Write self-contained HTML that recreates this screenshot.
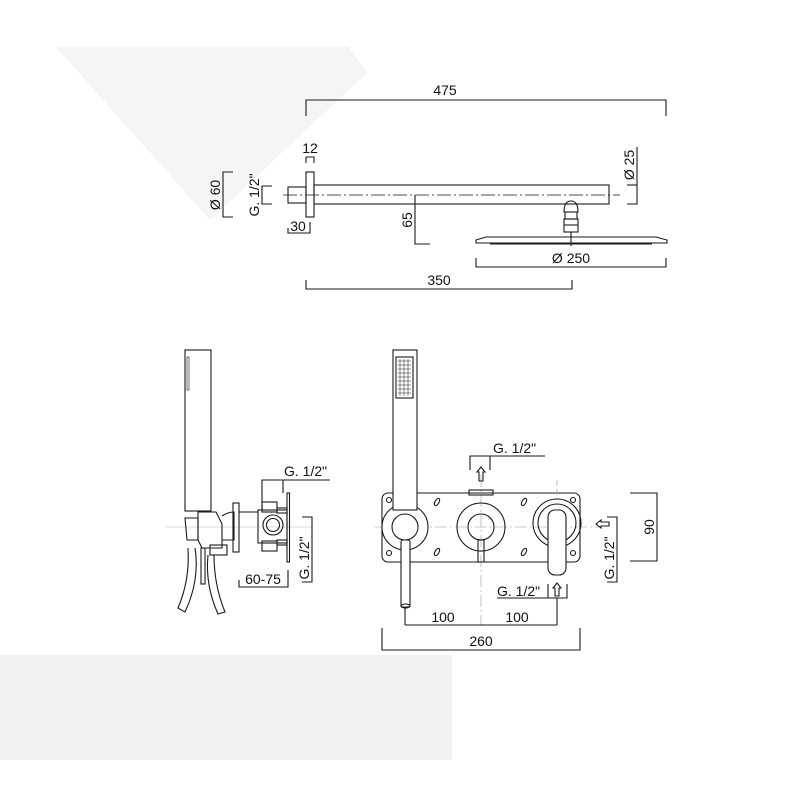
<!DOCTYPE html>
<html><head><meta charset="utf-8"><style>
html,body{margin:0;padding:0;background:#fff}
svg{display:block}
text{font-family:"Liberation Sans",sans-serif;font-size:14px;fill:#111}
</style></head><body>
<svg width="800" height="800" viewBox="0 0 800 800" xmlns="http://www.w3.org/2000/svg">
<polygon points="56,47 348,47 367,73 210,220" fill="#f5f5f5"/>
<rect x="0" y="655" width="452" height="105" fill="#f2f2f2"/>
<g fill="none" stroke="#1a1a1a" stroke-width="1.1">
<!-- TOP DRAWING -->
<polyline points="306,116 306,100 666,100 666,116"/>
<rect x="306" y="172" width="8" height="45"/>
<rect x="288" y="187" width="18" height="16"/>
<rect x="314" y="185" width="295" height="19"/>
<line x1="283" y1="195" x2="620" y2="195" stroke-dasharray="14,3,2,3" stroke-width="0.8"/>
<polyline points="306,163 306,157 314,157 314,163"/>
<polyline points="233,172 223,172 223,217 233,217"/>
<polyline points="272,186 262,186 262,204 272,204"/>
<polyline points="288,228 288,233 310,233 310,222"/>
<polyline points="415,195 415,244 430,244"/>
<polyline points="627,204 637,204 637,147"/>
<line x1="627" y1="185" x2="637" y2="185"/>
<path d="M564,212 Q564,201 571,201 Q578,201 578,212 Z"/>
<rect x="565" y="212" width="12" height="7"/>
<rect x="564" y="219" width="14" height="13"/>
<line x1="564" y1="225" x2="578" y2="225"/>
<polygon points="476,240 486,237 656,237 667,240 667,243 476,243"/>
<line x1="490" y1="244" x2="652" y2="244"/>
<line x1="571" y1="232" x2="571" y2="246"/>
<polyline points="476,258 476,267 666,267 666,258"/>
<polyline points="306,280 306,289 572,289 572,280"/>
<!-- SIDE VIEW -->
<line x1="165" y1="527" x2="312" y2="527" stroke="#ddd"/>
<rect x="185" y="350" width="26" height="161"/>
<rect x="187" y="357" width="2" height="33" stroke-width="0.6"/>
<polygon points="198,512 216,512 222,524 222,548 202,548 198,540"/>
<polygon points="185,518 198,518 198,540 187,540"/>
<path d="M222,516 Q228,512 234,512 L234,540 L222,540"/>
<rect x="233" y="503" width="6" height="49"/>
<polyline points="239,512 258,512 M239,545 258,545"/>
<rect x="210" y="545" width="17" height="10"/>
<path d="M195,548 Q200,580 185,612 L178,608 Q190,580 188,548"/>
<path d="M208,555 Q205,585 218,614 L225,612 Q214,585 214,555"/>
<rect x="201" y="548" width="4" height="36"/>
<rect x="258" y="510" width="29" height="33"/>
<rect x="262" y="502" width="15" height="10"/>
<rect x="262" y="541" width="15" height="10"/>
<rect x="277" y="508" width="10" height="5"/>
<rect x="277" y="540" width="10" height="5"/>
<circle cx="273" cy="525" r="10"/>
<circle cx="273" cy="525" r="6.5"/>
<rect x="287" y="493" width="2.5" height="69"/>
<polyline points="262,510 262,480 330,480"/>
<line x1="283" y1="480" x2="283" y2="493"/>
<polyline points="302,517 312,517 312,582 302,582"/>
<polyline points="239,580 239,587 288,587 288,570"/>
<!-- FRONT VIEW -->
<rect x="382" y="493" width="198" height="69" rx="6"/>
<line x1="375" y1="527" x2="600" y2="527" stroke-dasharray="12,3,2,3" stroke-width="0.6" stroke="#999"/>
<line x1="481" y1="475" x2="481" y2="625" stroke-dasharray="12,3,2,3" stroke-width="0.6" stroke="#999"/>
<line x1="557" y1="480" x2="557" y2="500" stroke-dasharray="6,3" stroke-width="0.6" stroke="#999"/>
<circle cx="389" cy="500" r="2.5"/><circle cx="573" cy="500" r="2.5"/>
<circle cx="389" cy="553" r="2.5"/><circle cx="573" cy="553" r="2.5"/>
<ellipse cx="437" cy="502" rx="2" ry="4" transform="rotate(30 437 502)"/>
<ellipse cx="524" cy="502" rx="2" ry="4" transform="rotate(30 524 502)"/>
<ellipse cx="437" cy="552" rx="2" ry="4" transform="rotate(30 437 552)"/>
<ellipse cx="524" cy="552" rx="2" ry="4" transform="rotate(30 524 552)"/>
<circle cx="405" cy="527" r="23" fill="#fff"/>
<circle cx="405" cy="527" r="13"/>
<rect x="393" y="350" width="24" height="160" fill="#fff"/>
<rect x="396" y="357" width="17" height="41"/>
<g stroke-width="0.5">
<path d="M398,361 H411 M398,365 H411 M398,369 H411 M398,373 H411 M398,377 H411 M398,381 H411 M398,385 H411 M398,389 H411 M398,393 H411"/>
<path d="M400,359 V396 M404,359 V396 M408,359 V396"/>
</g>
<rect x="401" y="540" width="9" height="67" rx="2" fill="#fff"/>
<ellipse cx="405.5" cy="606" rx="4.5" ry="2"/>
<circle cx="481" cy="527" r="24"/>
<circle cx="481" cy="527" r="13"/>
<rect x="469" y="490" width="24" height="5"/>
<rect x="478" y="540" width="6" height="22"/>
<circle cx="557" cy="523" r="24"/>
<circle cx="557" cy="523" r="19"/>
<rect x="548" y="510" width="18" height="65" rx="7" fill="#fff"/>
<polyline points="470,470 470,456 490,456 490,470"/>
<line x1="490" y1="456" x2="545" y2="456"/>
<path d="M481,467 L485,472 L483,472 L483,481 L479,481 L479,472 L477,472 Z"/>
<polyline points="630,493 657,493 657,561 630,561"/>
<polyline points="607,517 617,517 617,582 607,582"/>
<path d="M596,524 L601,520 L601,522 L609,522 L609,526 L601,526 L601,528 Z"/>
<polyline points="497,598 567,598 567,584"/>
<line x1="548" y1="598" x2="548" y2="584"/>
<path d="M557,583 L561,588 L559,588 L559,596 L555,596 L555,588 L553,588 Z"/>
<line x1="405" y1="607" x2="405" y2="625"/>
<line x1="557" y1="598" x2="557" y2="625"/>
<line x1="405" y1="625" x2="557" y2="625"/>
<polyline points="382,628 382,650 580,650 580,628"/>
</g>
<text x="445" y="95" text-anchor="middle">475</text>
<text x="310" y="153" text-anchor="middle">12</text>
<text x="298" y="231" text-anchor="middle">30</text>
<text x="439" y="285" text-anchor="middle">350</text>
<text x="571" y="263" text-anchor="middle">Ø 250</text>
<text transform="translate(220,195) rotate(-90)" text-anchor="middle">Ø 60</text>
<text transform="translate(259,195) rotate(-90)" text-anchor="middle">G. 1/2"</text>
<text transform="translate(412,220) rotate(-90)" text-anchor="middle">65</text>
<text transform="translate(634,165) rotate(-90)" text-anchor="middle">Ø 25</text>
<text x="284" y="476">G. 1/2"</text>
<text x="263" y="584" text-anchor="middle">60-75</text>
<text transform="translate(309,558) rotate(-90)" text-anchor="middle">G. 1/2"</text>
<text x="493" y="453">G. 1/2"</text>
<text transform="translate(654,527) rotate(-90)" text-anchor="middle">90</text>
<text transform="translate(614,558) rotate(-90)" text-anchor="middle">G. 1/2"</text>
<text x="497" y="596">G. 1/2"</text>
<text x="443" y="622" text-anchor="middle">100</text>
<text x="517" y="622" text-anchor="middle">100</text>
<text x="481" y="646" text-anchor="middle">260</text>
</svg>
</body></html>
